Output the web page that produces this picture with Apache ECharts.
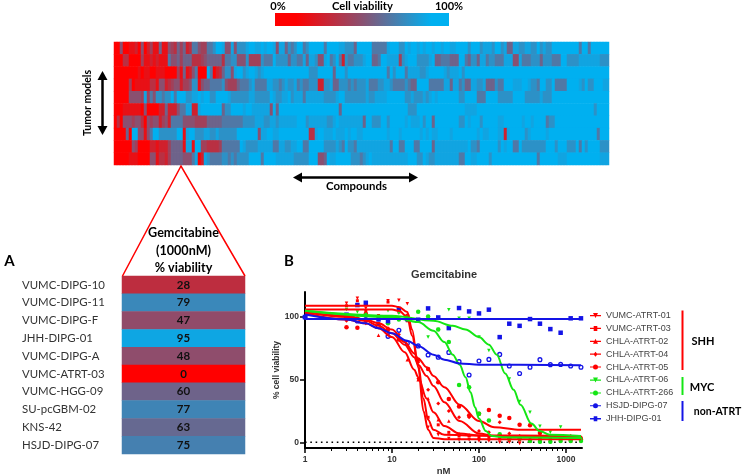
<!DOCTYPE html>
<html><head><meta charset="utf-8">
<style>html,body{margin:0;padding:0;background:#fff}#c{width:743px;height:476px}</style>
<script src="https://cdn.jsdelivr.net/npm/echarts@6/dist/echarts.min.js"></script>
</head><body><div id="c"></div>
<script>
// Heatmap viability per compound, as shade classes, one array per tumor model
const row1 = [0,0,5,0,0,1,1,2,0,5,0,2,4,1,1,6,1,1,5,4,3,6,4,
6,2,3,7,7,5,4,4,7,7,8,10,10,9,5,5,9,5,8,8,8,9,10,10,9,9,10,9,10,10,9,5,9,9,6,8,7,8,10,10,
7,8,10,10,10,10,10,7,10,10,10,10,9,9,8,8,8,6,10,10,10,10,10,7,7,7,7,7,9,10,10,10,8,8,10,9,10,10,9,10,9,10,10,9,10,10,9,10,10,9,9,10,
10,10,10,8,10,10,10,8,9,9,9,8,10,10,8,9,6,6,9,9,8,8,9,9,8,8,10,8,9,8,8,10,10,10,10,10,10,10,10,10,7,10,10,7,10,10,10,10,10,10];
const row2 = [0,0,0,3,3,0,0,0,0,4,1,1,2,1,2,1,1,1,7,5,5,6,4,
6,6,6,3,3,3,4,5,6,6,6,6,6,3,7,7,8,8,5,5,5,8,4,4,4,4,8,7,7,7,10,8,8,8,8,6,8,8,7,7,
9,6,9,9,8,5,5,9,10,7,8,10,7,2,8,7,7,8,8,8,9,10,10,6,6,7,10,10,9,9,9,9,4,8,9,10,10,10,8,8,8,8,9,10,6,6,7,7,7,6,6,6,
10,10,7,6,8,8,6,9,9,7,8,8,7,7,7,9,9,9,5,5,9,7,7,7,8,8,8,6,8,8,8,7,7,7,10,10,8,8,8,8,9,9,9,9,9,9,9,8,8,8];
const row3 = [0,0,0,0,0,0,0,0,1,0,1,1,0,0,1,1,1,0,0,0,0,4,1,
6,1,2,5,7,0,0,0,10,7,0,2,3,6,8,8,5,9,10,10,8,9,10,10,9,8,9,10,10,10,10,10,10,10,10,10,10,10,10,10,
10,10,8,8,8,10,10,10,10,10,6,10,10,10,8,10,10,10,10,10,10,10,10,10,10,10,10,10,7,10,8,10,10,10,7,9,9,9,9,8,8,9,10,10,10,10,10,9,8,9,9,9,
10,8,10,10,10,10,10,10,10,10,10,10,10,10,10,10,10,10,10,10,10,10,10,10,10,10,10,10,10,10,10,10,10,10,10,10,10,10,10,10,10,10,10,10,10,10,10,10,10,10];
const row4 = [0,0,0,0,0,4,0,1,1,1,1,1,3,3,1,5,5,2,3,4,5,5,2,
4,4,5,8,8,1,5,6,6,7,7,7,7,8,5,4,4,4,6,7,7,7,8,9,7,7,7,7,9,9,8,8,7,8,9,8,8,9,7,8,
7,7,8,8,8,2,2,8,8,9,6,6,8,8,8,7,8,7,8,8,8,9,7,7,7,8,8,9,9,8,7,7,7,7,8,7,6,6,10,10,10,10,7,7,7,7,7,9,9,6,9,9,
7,8,6,6,9,9,8,8,9,6,6,6,8,7,7,10,10,10,9,9,9,10,10,9,8,8,7,10,10,8,8,10,7,7,7,7,10,10,10,10,9,8,10,8,8,10,10,10,9,9];
const row5 = [0,0,0,0,0,5,5,5,5,4,9,4,7,5,8,8,7,8,8,10,7,10,10,
10,8,8,9,9,10,9,10,10,8,8,10,10,10,10,9,8,8,8,8,8,8,9,9,8,8,8,8,8,10,9,8,8,9,9,10,8,9,9,9,
7,9,9,9,9,9,9,8,8,8,8,9,10,10,8,8,8,8,8,8,8,9,8,8,9,9,9,9,10,10,10,10,10,10,8,8,9,8,8,8,9,8,9,10,9,10,10,10,10,10,10,10,
8,8,10,10,10,10,7,7,7,10,10,10,10,8,8,8,8,8,10,10,10,10,8,8,8,8,8,9,8,8,8,10,10,10,10,10,10,10,10,10,10,10,10,10,10,10,10,10,10,10];
const row6 = [0,0,0,1,1,1,1,1,1,0,5,0,0,0,0,2,2,6,2,2,2,5,7,
7,9,9,2,2,9,10,10,10,10,10,10,10,6,8,8,10,10,10,10,9,10,10,9,9,9,9,9,9,5,10,6,10,10,10,10,10,10,10,10,
10,10,10,10,10,10,10,10,10,10,10,10,6,10,10,10,10,10,10,10,10,10,10,10,10,10,10,10,10,10,10,10,10,10,10,8,8,8,10,10,10,10,10,10,10,10,10,10,10,10,10,10,
10,10,9,9,9,9,10,10,10,10,10,10,10,10,10,10,10,10,10,10,10,10,10,10,10,10,10,10,10,10,10,10,10,10,10,10,10,10,10,10,10,10,10,10,10,8,10,10,10,10];
const row7 = [0,3,0,5,5,5,4,5,5,3,0,5,4,5,5,2,4,5,2,7,7,7,7,
5,5,5,5,4,4,4,4,6,6,6,6,6,7,7,7,7,7,7,7,8,8,8,8,9,9,9,8,8,9,9,8,9,9,9,9,9,9,10,10,
10,8,9,9,9,9,9,9,8,8,9,10,9,9,9,9,9,9,9,9,6,10,10,8,8,8,10,10,8,10,10,10,10,10,9,10,9,9,9,10,8,10,10,6,10,10,10,10,10,10,10,10,
8,8,10,9,10,10,10,8,10,10,10,10,10,9,9,10,10,10,10,10,10,9,10,10,9,10,10,10,10,7,8,8,10,10,10,10,10,10,10,10,10,10,10,10,10,10,10,10,10,10];
const row8 = [0,0,0,0,6,0,10,10,5,5,1,5,7,10,10,8,8,8,8,8,8,10,10,
1,9,10,10,8,8,8,9,9,8,8,9,8,8,8,8,8,8,10,10,10,10,10,10,10,5,9,9,10,10,9,9,10,10,10,10,10,10,10,10,
10,10,3,3,9,10,10,9,9,9,10,9,9,9,10,9,10,10,9,9,10,10,10,10,10,10,10,10,9,10,10,10,9,10,10,10,10,10,10,9,10,9,10,9,9,10,10,10,10,9,10,10,
10,10,10,10,10,10,9,10,9,9,10,10,10,9,9,2,9,10,10,10,10,10,8,9,10,10,10,10,10,9,10,10,10,10,10,10,10,10,10,10,10,10,10,10,10,10,7,10,10,10];
const row9 = [0,0,0,0,0,0,5,4,0,0,0,0,2,2,1,2,2,2,4,6,6,6,6,
1,9,9,1,10,10,4,4,3,3,3,3,4,7,7,7,7,7,7,10,9,8,8,8,8,9,9,9,9,9,7,7,9,9,8,8,9,9,10,10,
7,7,10,10,10,10,10,8,8,8,8,9,8,7,10,8,8,7,9,9,9,9,9,9,9,9,9,9,9,7,10,10,7,7,10,10,10,7,7,10,10,10,10,6,9,9,9,9,9,9,9,9,
9,9,9,10,8,8,7,10,10,10,10,10,10,8,10,9,10,10,7,7,10,8,8,8,8,8,8,8,8,10,10,10,8,10,10,10,8,8,8,10,7,10,8,10,10,10,10,8,8,8];
const row10 = [0,0,0,0,0,1,1,1,0,0,0,0,5,5,1,3,3,2,4,6,6,6,6,
5,5,5,7,9,0,2,9,8,7,7,7,7,8,8,7,8,7,8,8,8,8,10,10,10,10,7,10,10,10,10,9,9,9,9,9,9,8,8,8,
8,8,10,10,10,5,5,6,10,9,9,10,10,10,10,10,8,8,8,7,8,9,10,9,9,9,9,9,9,9,9,9,9,9,9,10,10,10,8,8,10,9,8,8,9,9,9,9,9,9,9,9,
7,7,10,10,9,9,10,10,10,10,8,10,10,10,10,10,10,10,10,10,10,10,10,10,10,10,7,10,10,10,10,10,10,9,9,9,10,10,10,10,10,10,10,10,10,10,10,9,9,9];
const heatRows = [row1,row2,row3,row4,row5,row6,row7,row8,row9,row10];
const shadePercent = [0,10,20,30,40,50,60,71,84,94,100];

// Panel A
const tableModels = ['VUMC-DIPG-10','VUMC-DIPG-11','VUMC-DIPG-F','JHH-DIPG-01','VUMC-DIPG-A','VUMC-ATRT-03','VUMC-HGG-09','SU-pcGBM-02','KNS-42','HSJD-DIPG-07'];
const tableViability = [28,79,47,95,48,0,60,77,63,75];

// Panel B doses and measured points
const doses = [1,3,4,5,7,9,12,15,20,26,34,45,59,77,100,130,173,223,293,386,502,661,868,1132,1487];
const ptsATRT01 = [100,111,115,107,101,113,113.5,110.6,50,12,6,3,2,2,1,1,0,0,-1,1,1,1,2,2,2];
const ptsATRT03 = [100,109,113,105,99,112,104,97,66,20,14,8,5,5,4,4,3,2,2,2,2,2,3,3,3];
const ptsATRT02 = [100,100,97,98,85.5,88,83,66,50,35,18,17,7,6,4,3,3,2,2,1,1,2,2,1,2];
const ptsATRT04 = [100,97,98,95,94,91,86,79,64,42,31,25,20,20,9,8,16,7,5,4,3,3,4,5,4];
const ptsATRT05 = [100,91.8,91.5,102.7,94.4,90,82,101,66,58.5,48,34.6,28.7,21.5,22.9,25.8,21.3,19.4,14,13.6,7.4,4.8,3.5,2,2];
const ptsATRT06 = [100,106,104,102,100,105,103,100,97,84,90,105.8,99,99,84,73.4,70,50.5,32.7,24,12.8,8,12.2,3.5,2.7];
const ptsATRT266 = [100,101,99,98,92,95,98,98,104.3,100.5,90,80,45.7,44,22.9,17.5,6.5,3,3,1,0.5,0.5,1,1,1];
const ptsHSJD07 = [100,100,96.8,98,92.5,84.6,89.4,79,77,69.7,68,71.8,64.4,53.7,64.9,66.2,70.2,61,55,60,66,62,62.2,61,60];
const ptsJHH01 = [100,101.9,109.6,111.4,98.1,96.8,106.4,98.4,97.9,106.9,99.7,91.2,107.2,104.5,102.9,105.9,84,94.7,93,98.4,94.7,90.4,87.5,99,99];

// Panel B fitted curves read at these doses
const fitX1 = [1,5,10,12,15,17,20,23,26,30,40,100,1487];
const fitATRT01 = [109,109,109,108,104,90,60,25,10,3.5,2.5,2.5,2.5];
const fitATRT03 = [106,106,106,105,100,85,62,35,18,10,6,5.5,5];
const fitX2 = [1,3,5,7,10,14,18,20,25,30,40,60,100,150,300,1487];
const fitATRT02 = [103,98,95,91,84,72,58,52,35,24,13,7,5.5,5,5,5];
const fitATRT04 = [104,100,97,93,87,78,68,62,53,45,32,17,7,5,4.5,4];
const fitATRT05 = [104,101,98,95,90,80,71,67,60,53,44,30,17,12,10,10];
const fitX3 = [1,10,20,30,40,50,60,70,80,90,100,120,140,200,1487];
const fitATRT06 = [105,100,96,89,80,70,62,52,40,28,19,9,5,4,3.5];
const fitX4 = [1,10,30,50,70,100,130,160,200,250,300,400,500,650,1487];
const fitATRT266 = [105,101,97,93,90,84,78,70,55,42,30,15,9,6,5];
const fitX5 = [1,3,5,7,10,15,20,30,40,60,100,1487];
const fitHSJD07 = [102,98,95,91,87,81,77,70,66,63,62,61.5];
const fitX6 = [1,1487];
const fitJHH01 = [98.5,98.5];

const legendNames = ['VUMC-ATRT-01','VUMC-ATRT-03','CHLA-ATRT-02','CHLA-ATRT-04','CHLA-ATRT-05','CHLA-ATRT-06','CHLA-ATRT-266','HSJD-DIPG-07','JHH-DIPG-01'];
const majorTicks = [1,10,100,1000];
const minorTicks = [2,3,4,5,6,7,8,9,20,30,40,50,60,70,80,90,200,300,400,500,600,700,800,900];
const yTicks = [0,50,100];

const RED='#ff0000', GREEN='#14e614', BLUE='#1414e6';
const SANS='"Liberation Sans",Arial,sans-serif', LATO='Lato,"Open Sans",sans-serif';

const heatData=[];
heatRows.forEach((r,y)=>r.forEach((v,x)=>heatData.push([x,y,shadePercent[v]])));
const tableData=tableViability.map((v,i)=>[0,i,v]);
const zip=(xs,ys)=>xs.map((x,i)=>[x,ys[i]]);

const LINE='M0 2L11 2L11 3L0 3Z ';
const mkCircle=LINE+'M5.5 0A2.5 2.5 0 1 1 5.5 5A2.5 2.5 0 1 1 5.5 0Z';
const mkUp=LINE+'M5.5 0.5L8 4.5L3 4.5Z';
const mkDown=LINE+'M3 0.5L8 0.5L5.5 4.5Z';
const mkRect=LINE+'M3.7 0.7L7.3 0.7L7.3 4.3L3.7 4.3Z';
const mkDiamond=LINE+'M5.5 0.5L7.5 2.5L5.5 4.5L3.5 2.5Z';
const legendIcons=[mkDown,mkRect,mkUp,mkDiamond,mkCircle,mkDown,mkCircle,mkCircle,mkRect];
const legendColors=[RED,RED,RED,RED,RED,GREEN,GREEN,BLUE,BLUE];

function curve(name,color,xs,ys){
  return {type:'line',name,xAxisIndex:2,yAxisIndex:2,data:zip(xs,ys),smooth:0.35,smoothMonotone:'x',
    showSymbol:false,symbol:'none',color,lineStyle:{color,width:2},itemStyle:{color},z:3,silent:true};
}
function points(name,color,ys,symbol,size,rot,empty){
  return {type:'scatter',name,xAxisIndex:2,yAxisIndex:2,data:zip(doses,ys),symbol,symbolSize:size,symbolRotate:rot||0,
    itemStyle:empty?{color:'#fff',borderColor:color,borderWidth:1.3,opacity:1}:{color,opacity:1},z:2,silent:true};
}

function txt(text,x,y,opt){
  opt=opt||{};
  return {type:'text',x,y,rotation:opt.rot||0,z:20,style:{text,x:0,y:0,fill:opt.fill||'#000',
    font:(opt.w||'bold')+' '+(opt.s||11)+'px '+(opt.f||LATO),textAlign:opt.a||'center',textVerticalAlign:'middle'}};
}
function seg(points,color,w){return {type:'polyline',z:15,shape:{points},style:{stroke:color,lineWidth:w,fill:null}};}
function head(points){return {type:'polygon',z:15,shape:{points},style:{fill:'#000'}};}

const graphic=[
  {type:'rect',z:15,shape:{x:275,y:13,width:174,height:13},style:{fill:new echarts.graphic.LinearGradient(0,0,1,0,[
    {offset:0,color:'#ff0000'},{offset:0.12,color:'#ff0000'},{offset:0.5,color:'#8a5070'},{offset:0.9,color:'#00b0f0'},{offset:1,color:'#00b0f0'}])}},
  txt('0%',278,6,{s:11}),txt('Cell viability',362.5,6,{s:11.2}),txt('100%',449,6,{s:11}),
  txt('Tumor models',88,103,{rot:Math.PI/2,s:10.5}),
  seg([[102.5,76],[102.5,130]],'#000',2.5),head([[102.5,71],[97.5,80],[107.5,80]]),head([[102.5,135],[97.5,126],[107.5,126]]),
  seg([[298,177.5],[413,177.5]],'#000',2.5),head([[293,177.5],[302,172.5],[302,182.5]]),head([[418,177.5],[409,172.5],[409,182.5]]),
  txt('Compounds',356.5,186,{s:11.4}),
  seg([[122.5,276],[181,166],[245,276]],RED,1.5),
  txt('Gemcitabine',183.5,232.5,{s:12.6}),txt('(1000nM)',183.5,250.5,{s:12.6}),txt('% viability',183.5,268,{s:12.6}),
  txt('A',9.5,261.5,{s:15}),txt('B',289,261.5,{s:15}),
  seg([[682.5,310.5],[682.5,370]],RED,2),seg([[682.5,377],[682.5,395]],GREEN,2),seg([[682.5,401],[682.5,421]],BLUE,2),
  txt('SHH',703,341,{s:11}),txt('MYC',702,387,{s:11}),txt('non-ATRT',717.5,412,{s:10.5})
];

const chart=echarts.init(document.getElementById('c'),null,{renderer:'canvas'});
chart.setOption({
  animation:false,
  backgroundColor:'#fff',
  title:{text:'Gemcitabine',left:411,top:269,padding:0,textStyle:{fontSize:11,fontWeight:'bold',fontFamily:SANS,color:'#333'}},
  grid:[
    {left:114,top:42,width:495,height:123,outerBoundsMode:'none'},
    {left:122,top:276,width:123,height:178,outerBoundsMode:'none'},
    {left:305,top:292,width:277,height:156,outerBoundsMode:'none'}
  ],
  xAxis:[
    {type:'category',gridIndex:0,data:heatRows[0].map((_,i)=>i),show:false},
    {type:'category',gridIndex:1,data:['viability'],show:false},
    {type:'log',gridIndex:2,min:1,max:1528,logBase:10,position:'bottom',
      name:'nM',nameLocation:'middle',nameGap:18,nameTextStyle:{fontSize:9.5,fontWeight:'bold',fontFamily:SANS,color:'#333'},
      axisLine:{onZero:false,lineStyle:{color:'#000',width:2}},
      axisTick:{customValues:majorTicks,length:5,lineStyle:{color:'#000',width:1.5}},
      axisLabel:{customValues:majorTicks,fontSize:8.5,fontWeight:'bold',fontFamily:SANS,color:'#333',margin:7,formatter:v=>String(Math.round(v))},
      splitLine:{show:false},minorTick:{show:false}},
    {type:'log',gridIndex:2,min:1,max:1528,logBase:10,position:'bottom',
      axisLine:{show:false,onZero:false},axisLabel:{show:false},
      axisTick:{customValues:minorTicks,length:3,lineStyle:{color:'#000',width:1}},splitLine:{show:false}}
  ],
  yAxis:[
    {type:'category',gridIndex:0,data:heatRows.map((_,i)=>i),inverse:true,show:false},
    {type:'category',gridIndex:1,data:tableModels,inverse:true,
      axisLine:{show:false},axisTick:{show:false},
      axisLabel:{align:'left',margin:100,fontSize:11.4,fontFamily:LATO,color:'#333'}},
    {type:'value',gridIndex:2,min:-4.5,max:120,
      axisLine:{show:true,onZero:false,lineStyle:{color:'#000',width:2}},
      axisTick:{show:true,customValues:yTicks,length:5,lineStyle:{color:'#000',width:1.5}},
      axisLabel:{customValues:yTicks,fontSize:8.5,fontWeight:'bold',fontFamily:SANS,color:'#333',margin:6},
      splitLine:{show:false},
      name:'% cell viability',nameLocation:'middle',nameGap:20,nameRotate:90,
      nameTextStyle:{fontSize:8.5,fontWeight:'bold',fontFamily:SANS,color:'#333'}}
  ],
  visualMap:{type:'continuous',show:false,seriesIndex:[0,1],min:0,max:100,
    inRange:{color:['#ff0000','#8a5070','#00b0f0']}},
  legend:{data:legendNames.map((name,i)=>({name,icon:'path://'+legendIcons[i],itemStyle:{color:legendColors[i],borderWidth:0}})),
    orient:'vertical',left:590,top:311,itemWidth:11,itemHeight:5,itemGap:3.9,symbolKeepAspect:false,
    selectedMode:false,textStyle:{fontSize:9,fontFamily:SANS,color:'#444'},padding:0},
  graphic:{elements:graphic},
  series:[
    {type:'heatmap',xAxisIndex:0,yAxisIndex:0,data:heatData,silent:true,progressive:0},
    {type:'heatmap',xAxisIndex:1,yAxisIndex:1,data:tableData,silent:true,
      label:{show:true,formatter:p=>String(p.value[2]),fontSize:11.5,fontWeight:'bold',fontFamily:LATO,color:'#111'}},
    {type:'line',xAxisIndex:2,yAxisIndex:2,name:'zero',data:[[1,0],[1528,0]],showSymbol:false,symbol:'none',
      lineStyle:{color:'#000',width:1.5,type:[1.6,3.7]},silent:true,z:1},
    points('VUMC-ATRT-01',RED,ptsATRT01,'triangle',3.5,180),
    points('VUMC-ATRT-03',RED,ptsATRT03,'rect',3),
    points('CHLA-ATRT-02',RED,ptsATRT02,'triangle',3.5),
    points('CHLA-ATRT-04',RED,ptsATRT04,'diamond',4),
    points('CHLA-ATRT-05',RED,ptsATRT05,'circle',4.5),
    points('CHLA-ATRT-06',GREEN,ptsATRT06,'triangle',3.5,180),
    points('CHLA-ATRT-266',GREEN,ptsATRT266,'circle',4.5),
    points('HSJD-DIPG-07',BLUE,ptsHSJD07,'circle',3.8,0,true),
    points('JHH-DIPG-01',BLUE,ptsJHH01,'rect',4.5),
    curve('VUMC-ATRT-01',RED,fitX1,fitATRT01),
    curve('VUMC-ATRT-03',RED,fitX1,fitATRT03),
    curve('CHLA-ATRT-02',RED,fitX2,fitATRT02),
    curve('CHLA-ATRT-04',RED,fitX2,fitATRT04),
    curve('CHLA-ATRT-05',RED,fitX2,fitATRT05),
    curve('CHLA-ATRT-06',GREEN,fitX3,fitATRT06),
    curve('CHLA-ATRT-266',GREEN,fitX4,fitATRT266),
    curve('HSJD-DIPG-07',BLUE,fitX5,fitHSJD07),
    curve('JHH-DIPG-01',BLUE,fitX6,fitJHH01)
  ]
});
</script></body></html>
